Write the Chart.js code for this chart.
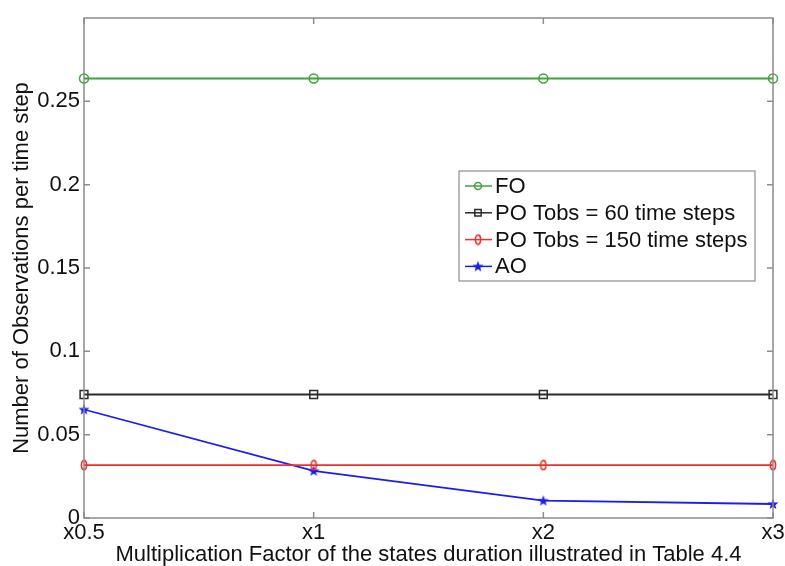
<!DOCTYPE html>
<html>
<head>
<meta charset="utf-8">
<script src="https://cdn.jsdelivr.net/npm/chart.js@4.4.0/dist/chart.umd.min.js"></script>
<style>
  html, body { margin: 0; padding: 0; background: #fff; }
</style>
</head>
<body>
<canvas id="chart" width="785" height="566"></canvas>
<script>
const factors = ['x0.5', 'x1', 'x2', 'x3'];
const fo = [0.2637, 0.2637, 0.2637, 0.2637];
const poTobs60 = [0.0741, 0.0741, 0.0741, 0.0741];
const poTobs150 = [0.0317, 0.0317, 0.0317, 0.0317];
const ao = [0.0651, 0.0283, 0.0104, 0.0084];
const yTicks = [0, 0.05, 0.1, 0.15, 0.2, 0.25];

const font = 'Liberation Sans, Arial, sans-serif';
const textColor = '#111';
const frameColor = '#8c8c8c';

// markers like matlab's: hollow ellipse and filled pentagram
function ellipseMarker(color) {
  const c = document.createElement('canvas');
  c.width = 8; c.height = 12;
  const g = c.getContext('2d');
  g.strokeStyle = color;
  g.lineWidth = 1.6;
  g.beginPath();
  g.ellipse(4, 6, 2.6, 4.6, 0, 0, Math.PI * 2);
  g.stroke();
  return c;
}

function starMarker(color) {
  const c = document.createElement('canvas');
  c.width = 12; c.height = 12;
  const g = c.getContext('2d');
  g.fillStyle = color;
  g.beginPath();
  for (let i = 0; i < 10; i++) {
    const r = i % 2 ? 2.4 : 5.8;
    const a = -Math.PI / 2 + i * Math.PI / 5;
    const px = 6 + r * Math.cos(a), py = 6.4 + r * Math.sin(a);
    i ? g.lineTo(px, py) : g.moveTo(px, py);
  }
  g.closePath();
  g.fill();
  return c;
}

const frame = {
  id: 'frame',
  afterDraw(chart) {
    const { ctx, chartArea: a, scales } = chart;
    ctx.save();
    ctx.strokeStyle = frameColor;
    ctx.lineWidth = 1.5;
    ctx.strokeRect(a.left, a.top, a.right - a.left, a.bottom - a.top);
    ctx.beginPath();
    const t = 6;
    yTicks.forEach((v) => {
      const y = scales.y.getPixelForValue(v);
      ctx.moveTo(a.left, y); ctx.lineTo(a.left + t, y);
      ctx.moveTo(a.right, y); ctx.lineTo(a.right - t, y);
    });
    factors.forEach((f, i) => {
      const x = scales.x.getPixelForValue(i);
      ctx.moveTo(x, a.bottom); ctx.lineTo(x, a.bottom - t);
      ctx.moveTo(x, a.top); ctx.lineTo(x, a.top + t);
    });
    ctx.stroke();
    ctx.restore();
  },
};

// legend box sitting inside the axes, matlab style
const boxLegend = {
  id: 'boxLegend',
  afterDraw(chart) {
    const { ctx, chartArea: a } = chart;
    const x0 = a.right - 314, y0 = a.top + 153, w = 296, h = 110;
    ctx.save();
    ctx.fillStyle = '#fff';
    ctx.fillRect(x0, y0, w, h);
    ctx.strokeStyle = frameColor;
    ctx.lineWidth = 1.2;
    ctx.strokeRect(x0, y0, w, h);
    ctx.font = '22px ' + font;
    ctx.textBaseline = 'middle';
    chart.data.datasets.forEach((ds, i) => {
      const y = y0 + 15 + i * 26.8;
      ctx.strokeStyle = ds.borderColor;
      ctx.lineWidth = 1.5;
      ctx.beginPath();
      ctx.moveTo(x0 + 6, y); ctx.lineTo(x0 + 33, y);
      ctx.stroke();
      ctx.fillStyle = 'rgba(0,0,0,0)';
      Chart.helpers.drawPoint(ctx, {
        pointStyle: ds.pointStyle, radius: ds.pointRadius - 1, rotation: 0, borderWidth: 1.5,
      }, x0 + 19, y);
      ctx.fillStyle = textColor;
      ctx.fillText(ds.label, x0 + 36, y + 1);
    });
    ctx.restore();
  },
};

function series(label, data, color, style, radius) {
  return {
    label, data,
    borderColor: color,
    backgroundColor: 'transparent',
    borderWidth: 1.8,
    pointStyle: style,
    pointRadius: radius,
    pointBorderWidth: 1.5,
    pointBorderColor: color,
    pointBackgroundColor: 'transparent',
    tension: 0,
  };
}

new Chart(document.getElementById('chart'), {
  type: 'line',
  data: {
    labels: factors,
    datasets: [
      series('FO', fo, '#3fa23f', 'circle', 4.5),
      series('PO Tobs = 60 time steps', poTobs60, '#2b2b2b', 'rect', 5.5),
      series('PO Tobs = 150 time steps', poTobs150, '#e8322c', ellipseMarker('#e8322c'), 5),
      series('AO', ao, '#1c1cf0', starMarker('#1c1cf0'), 6),
    ],
  },
  options: {
    responsive: false,
    animation: false,
    layout: { padding: { top: 18, right: 12, left: 0, bottom: 0 } },
    plugins: { legend: { display: false }, tooltip: { enabled: false } },
    scales: {
      x: {
        offset: false,
        grid: { display: false, drawTicks: false },
        border: { display: false },
        ticks: { color: textColor, font: { family: font, size: 22 }, padding: 2, maxRotation: 0 },
        title: {
          display: true,
          text: 'Multiplication Factor of the states duration illustrated in Table 4.4',
          color: textColor,
          font: { family: font, size: 22, lineHeight: 1.0 },
          padding: 0,
        },
        afterFit(s) { s.height = 48; s.paddingLeft = 0; s.paddingRight = 0; },
      },
      y: {
        min: 0,
        max: 0.3,
        grid: { display: false, drawTicks: false },
        border: { display: false },
        afterBuildTicks(s) { s.ticks = yTicks.map((v) => ({ value: v })); },
        ticks: {
          color: textColor,
          font: { family: font, size: 22 },
          padding: 4,
          callback: (v) => String(+v.toFixed(2)),
        },
        title: {
          display: true,
          text: 'Number of Observations per time step',
          color: textColor,
          font: { family: font, size: 22, lineHeight: 1.2 },
          padding: { top: 9, bottom: 0 },
        },
        afterFit(s) { s.width = 84; s.paddingTop = 0; s.paddingBottom = 0; },
      },
    },
  },
  plugins: [frame, boxLegend],
});
</script>
</body>
</html>
